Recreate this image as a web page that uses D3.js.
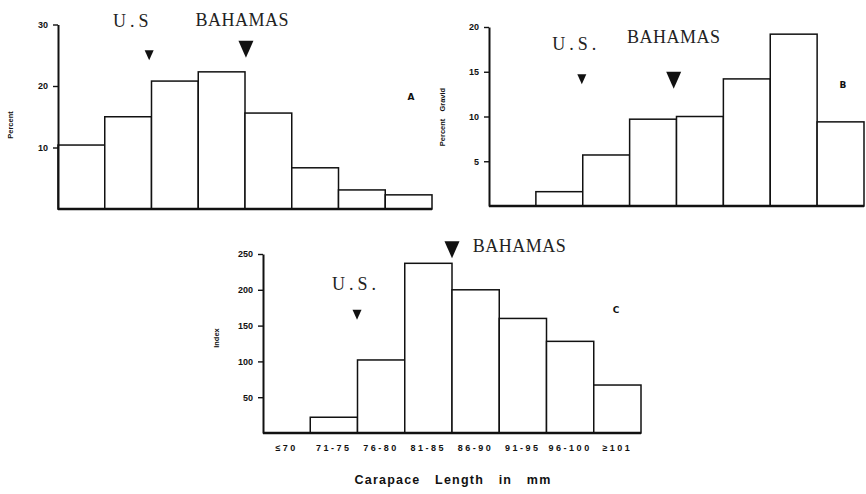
<!DOCTYPE html>
<html>
<head>
<meta charset="utf-8">
<script src="https://cdn.jsdelivr.net/npm/d3@7"></script>
<style>
body{margin:0;background:#fff;}
svg{display:block;}
.tick text{font-family:"Liberation Sans",Arial,sans-serif;font-weight:bold;font-size:9px;fill:#111;}
.ylab{font-family:"Liberation Sans",Arial,sans-serif;font-weight:bold;font-size:7.5px;fill:#111;}
.place{font-family:"Liberation Serif","Times New Roman",serif;font-size:18px;fill:#222;}
.tag{font-family:"DejaVu Sans",sans-serif;font-weight:bold;font-size:9px;fill:#111;}
.xtitle{font-family:"Liberation Sans",Arial,sans-serif;font-weight:bold;font-size:12.5px;fill:#111;}
</style>
</head>
<body>
<svg id="fig" width="866" height="494"></svg>
<script>
// carapace length classes (mm)
const bins = ["≤70","71-75","76-80","81-85","86-90","91-95","96-100","≥101"];

// A: size frequency, B: percent gravid, C: reproductive index
const percentA = [10.4, 15.0, 20.8, 22.3, 15.6, 6.7, 3.1, 2.3];
const gravidB  = [0, 1.6, 5.7, 9.7, 10.0, 14.2, 19.2, 9.4];
const indexC   = [0, 22, 102, 237, 200, 160, 128, 67];

const ticksA = [10, 20, 30];
const ticksB = [5, 10, 15, 20];
const ticksC = [50, 100, 150, 200, 250];

// median markers: at = position in class units, tip/label in y units
const markersA = [
  {name:"U.S",     at:1.95, labelAt:1.60, tip:24.2, label:29.6, big:false},
  {name:"BAHAMAS", at:4.02, labelAt:3.94, tip:24.6, label:29.8, big:true}
];
const markersB = [
  {name:"U.S.",    at:1.98, labelAt:1.86, tip:13.6, label:17.4, big:false},
  {name:"BAHAMAS", at:3.94, labelAt:3.94, tip:13.1, label:18.2, big:true}
];
const markersC = [
  {name:"U.S.",    at:1.99, labelAt:1.97, tip:158, label:200, big:false},
  {name:"BAHAMAS", at:4.00, labelAt:4.44, tip:244, label:253, big:true, anchor:"start"}
];

const svg = d3.select("#fig");

function panel(cfg){
  const g = svg.append("g");

  const x = d3.scaleBand().domain(bins).range([cfg.x0, cfg.x1]).padding(0);
  const xu = d3.scaleLinear().domain([0, bins.length]).range([cfg.x0, cfg.x1]);
  const y = d3.scaleLinear().domain([0, cfg.max]).range([cfg.y0, cfg.yTop]);

  g.selectAll("rect.bar")
    .data(cfg.values)
    .join("rect")
    .attr("class","bar")
    .attr("x", (d,i)=>x(bins[i]))
    .attr("width", x.bandwidth())
    .attr("y", d=>y(d))
    .attr("height", d=>y(0)-y(d))
    .attr("fill","#fff")
    .attr("stroke","#111")
    .attr("stroke-width",1.5);

  // baseline
  g.append("line")
    .attr("x1", cfg.x0).attr("x2", cfg.x1)
    .attr("y1", y(0)).attr("y2", y(0))
    .attr("stroke","#111").attr("stroke-width",2.4);

  const yAxis = g.append("g")
    .attr("transform",`translate(${cfg.x0},0)`)
    .call(d3.axisLeft(y).tickValues(cfg.ticks).tickSize(5).tickSizeOuter(0).tickPadding(5));
  yAxis.select(".domain").attr("stroke","#111").attr("stroke-width",2);
  yAxis.selectAll(".tick line").attr("stroke","#111").attr("stroke-width",1.4);

  if(cfg.xLabels){
    const xAxis = g.append("g")
      .attr("transform",`translate(0,${y(0)})`)
      .call(d3.axisBottom(x).tickSize(0).tickPadding(12));
    xAxis.select(".domain").remove();
    xAxis.selectAll("text").style("letter-spacing","2.5px");
  }

  g.append("text")
    .attr("class","ylab")
    .attr("transform",`translate(${cfg.ylabX},${cfg.ylabY}) rotate(-90)`)
    .attr("text-anchor","middle")
    .style("word-spacing","5px")
    .text(cfg.ylab);

  cfg.markers.forEach(m=>{
    const w = m.big ? 15 : 9, h = m.big ? 17 : 10;
    const cx = xu(m.at), ty = y(m.tip);
    g.append("path")
      .attr("d",`M${cx-w/2},${ty-h}L${cx+w/2},${ty-h}L${cx},${ty}Z`)
      .attr("fill","#111");
    g.append("text")
      .attr("class","place")
      .attr("x", xu(m.labelAt))
      .attr("y", y(m.label))
      .attr("text-anchor", m.anchor || "middle")
      .style("letter-spacing", m.name.startsWith("U") ? "4px" : "0.5px")
      .text(m.name);
  });

  g.append("text")
    .attr("class","tag")
    .attr("x", xu(cfg.tagAt[0]))
    .attr("y", y(cfg.tagAt[1]))
    .attr("text-anchor","middle")
    .text(cfg.tag);

  return g;
}

panel({values:percentA, ticks:ticksA, max:30, x0:58, x1:432, y0:209, yTop:24.5,
  ylab:"Percent", ylabX:13, ylabY:125, markers:markersA, tag:"A", tagAt:[7.55,17.8]});

panel({values:gravidB, ticks:ticksB, max:20, x0:489, x1:864, y0:206, yTop:27,
  ylab:"Percent Gravid", ylabX:445, ylabY:117, markers:markersB, tag:"B", tagAt:[7.55,13.2]});

panel({values:indexC, ticks:ticksC, max:250, x0:263, x1:641, y0:433, yTop:254,
  ylab:"Index", ylabX:219, ylabY:338, markers:markersC, tag:"C", tagAt:[7.47,168],
  xLabels:true});

svg.append("text")
  .attr("class","xtitle")
  .attr("x",453).attr("y",484)
  .attr("text-anchor","middle")
  .style("letter-spacing","1.2px")
  .style("word-spacing","10px")
  .text("Carapace Length in mm");
</script>
</body>
</html>
